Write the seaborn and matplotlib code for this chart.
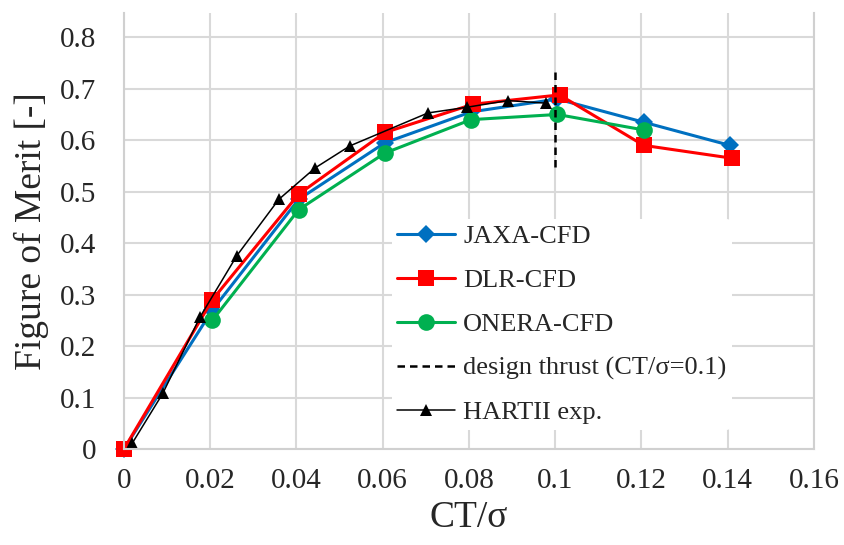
import seaborn as sns
import matplotlib.pyplot as plt
from matplotlib.ticker import FuncFormatter

# CT/sigma vs Figure of Merit
jaxa_x = [0.0, 0.0205, 0.0405, 0.0605, 0.0805, 0.1005, 0.1205, 0.1405]
jaxa_y = [0.0, 0.27, 0.485, 0.595, 0.655, 0.68, 0.635, 0.59]

dlr_x = [0.0, 0.0205, 0.0405, 0.0605, 0.081, 0.101, 0.1205, 0.141]
dlr_y = [0.0, 0.29, 0.495, 0.615, 0.67, 0.688, 0.59, 0.565]

onera_x = [0.0205, 0.0405, 0.0605, 0.0805, 0.1005, 0.1205]
onera_y = [0.25, 0.465, 0.575, 0.64, 0.65, 0.62]

hart_x = [0.0019, 0.009, 0.0176, 0.0262, 0.0359, 0.0443, 0.0524,
          0.0705, 0.0795, 0.089, 0.0978]
hart_y = [0.011, 0.108, 0.256, 0.376, 0.485, 0.546, 0.589,
          0.653, 0.664, 0.677, 0.672]

design_x = [0.1, 0.1]
design_y = [0.548, 0.74]

xticks = [0, 0.02, 0.04, 0.06, 0.08, 0.1, 0.12, 0.14, 0.16]
yticks = [0, 0.1, 0.2, 0.3, 0.4, 0.5, 0.6, 0.7, 0.8]

sns.set_style('white')
plt.rcParams['font.family'] = ['Liberation Serif', 'DejaVu Serif']

fig = plt.figure(figsize=(8.45, 5.45), dpi=100)
ax = fig.add_axes([0.1467, 0.1761, 0.8166, 0.7999])

sns.lineplot(x=jaxa_x, y=jaxa_y, ax=ax, color='#0070C0', lw=2.2, marker='D',
             markersize=9, markeredgewidth=0, sort=False, label='JAXA-CFD')
sns.lineplot(x=dlr_x, y=dlr_y, ax=ax, color='#FF0000', lw=2.2, marker='s',
             markersize=11, markeredgewidth=0, sort=False, label='DLR-CFD')
sns.lineplot(x=onera_x, y=onera_y, ax=ax, color='#00B050', lw=2.2, marker='o',
             markersize=12, markeredgewidth=0, sort=False, label='ONERA-CFD')
ax.plot(design_x, design_y, color='black', lw=1.8, ls=(0, (3, 2)),
        label='design thrust (CT/σ=0.1)')
sns.lineplot(x=hart_x, y=hart_y, ax=ax, color='black', lw=1.1, marker='^',
             markersize=8, markeredgewidth=0, sort=False, label='HARTII exp.')

# markers at the origin sit on the axis edge
for ln in ax.lines:
    ln.set_clip_on(False)

ax.set_xlim(0, 0.16)
ax.set_ylim(0, 0.847)
ax.set_xticks(xticks)
ax.set_yticks(yticks)
fmt = FuncFormatter(lambda v, p: '{:g}'.format(round(v, 3)))
ax.xaxis.set_major_formatter(fmt)
ax.yaxis.set_major_formatter(fmt)
ax.tick_params(axis='both', length=0, labelsize=21, colors='#262626')
ax.tick_params(axis='x', pad=14)
ax.tick_params(axis='y', pad=20)

ax.grid(True, color='#d9d9d9', lw=1.5)
ax.set_axisbelow(True)
for s in ['left', 'right', 'bottom']:
    ax.spines[s].set_color('#d0d0d0')
    ax.spines[s].set_linewidth(1.5)
ax.spines['top'].set_visible(False)

ax.set_xlabel('CT/σ', fontsize=27, color='#262626', labelpad=4)
ax.set_ylabel('Figure of Merit [-]', fontsize=27, color='#262626', labelpad=8)

leg = ax.legend(loc='upper left', bbox_to_anchor=(392 / 845, 1 - 219 / 545),
                bbox_transform=fig.transFigure, fontsize=19, frameon=True,
                facecolor='white', edgecolor='none', framealpha=1,
                handlelength=2.2, handletextpad=0.3, labelspacing=0.78,
                borderpad=0.2, borderaxespad=0)
for t in leg.get_texts():
    t.set_color('#262626')

fig.savefig('out.png', dpi=100)
